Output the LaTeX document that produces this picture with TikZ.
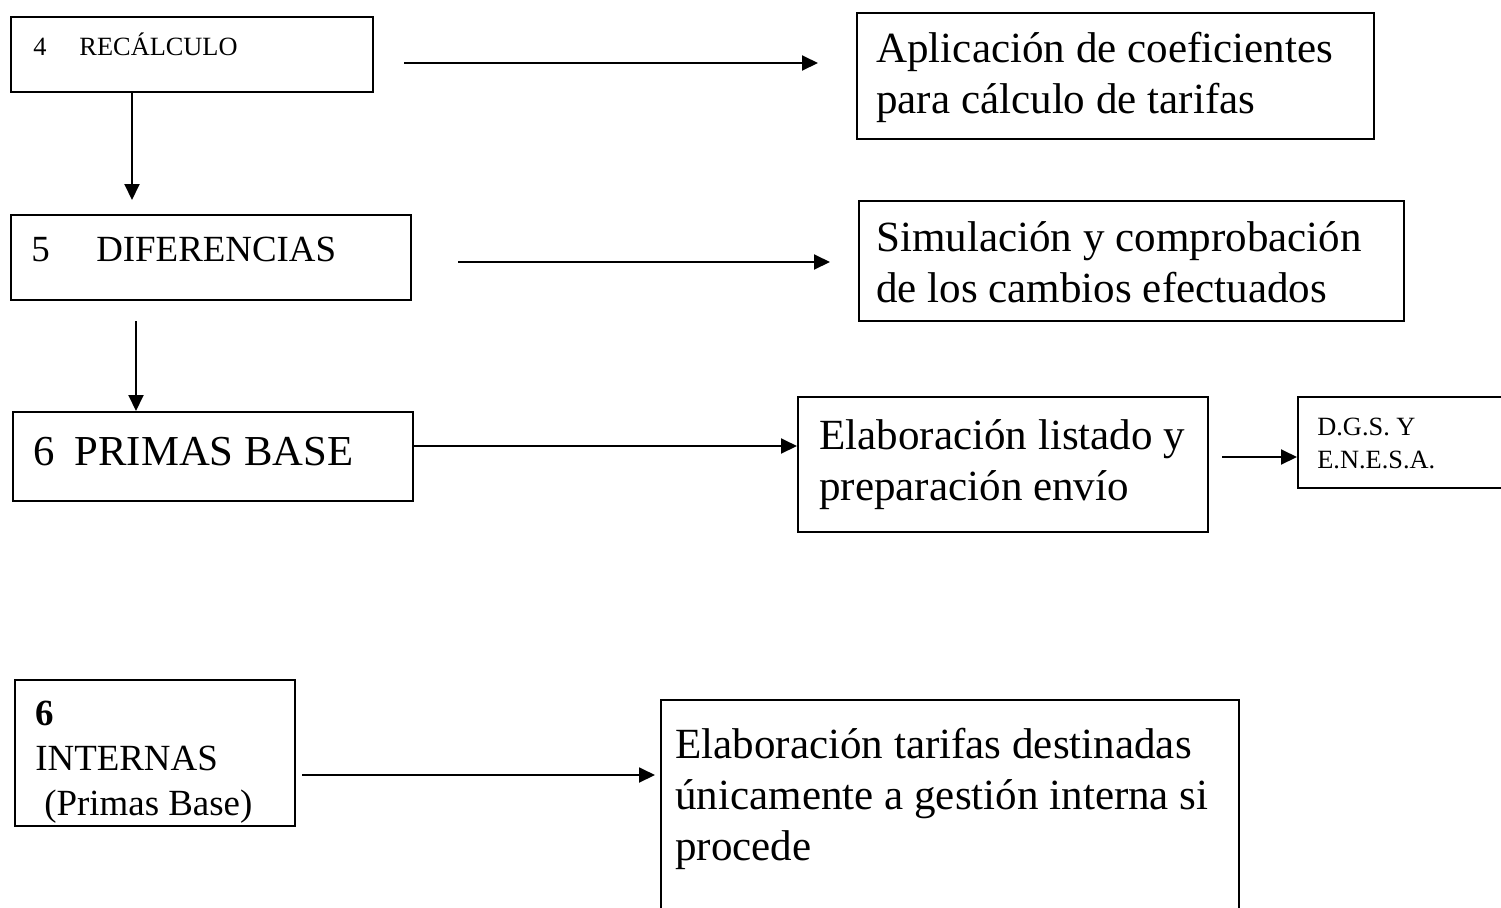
\documentclass[tikz,border=0pt]{standalone}
\usepackage{fontspec}
\setmainfont{Liberation Serif}
\usetikzlibrary{arrows.meta,positioning}

\begin{document}
\begin{tikzpicture}[x=0.02cm, y=-0.02cm,
      box/.style={draw,line width=1.1pt,anchor=north west,inner sep=0pt},
      txt/.style={anchor=base west,inner sep=0pt,align=left},
      arr/.style={line width=1.1pt,-{Triangle[length=0.32cm,width=0.3cm]}}]
    \tikzstyle{big} = [font=\fontsize{24.5pt}{29pt}\selectfont]
    \tikzstyle{small} = [font=\fontsize{15pt}{18.5pt}\selectfont]
    \clip (0,0) rectangle (1501,907);
    \node [box,minimum width=7.24cm,minimum height=1.5cm] (recalc) at (10,16) {};
    \node [box,minimum width=10.34cm,minimum height=2.52cm] (aplic) at (856,12) {};
    \node [box,minimum width=8cm,minimum height=1.7cm] (difer) at (10,214) {};
    \node [box,minimum width=10.9cm,minimum height=2.4cm] (simul) at (858,200) {};
    \node [box,minimum width=8cm,minimum height=1.78cm] (primas) at (12,411) {};
    \node [box,minimum width=8.2cm,minimum height=2.7cm] (elab) at (797,396) {};
    \node [box,minimum width=4.3cm,minimum height=1.82cm] (dgs) at (1297,396) {};
    \node [box,minimum width=5.6cm,minimum height=2.92cm] (intern) at (14,679) {};
    \node [box,minimum width=11.56cm,minimum height=4.4cm] (gestion) at (660,699) {};
    % base west of a multi-line node sits on its last line
    \node [txt,small] (recalcT) at (33,55) {4\hspace{0.66cm}RECÁLCULO};
    \node [txt,font=\fontsize{21pt}{24pt}\selectfont] (diferT) at (31,261) {5\hspace{0.93cm}DIFERENCIAS};
    \node [txt,font=\fontsize{24.3pt}{27pt}\selectfont] (primasT) at (33,465) {6\hspace{0.4cm}PRIMAS BASE};
    \node [txt,big] (aplicT) at (876,113) {Aplicación de coeficientes\\para cálculo de tarifas};
    \node [txt,big] (simulT) at (876,302) {Simulación y comprobación\\de los cambios efectuados};
    \node [txt,big] (elabT) at (819,500) {Elaboración listado y\\preparación envío};
    \node [txt,small] (dgsT) at (1317,468) {D.G.S. Y\\E.N.E.S.A.};
    \node [txt,font=\fontsize{21pt}{25.5pt}\selectfont] (internT) at (35,815)
      {\textbf{6}\\INTERNAS\\\hspace*{0.18cm}(Primas Base)};
    \node [txt,big] (gestionT) at (675,860)
      {Elaboración tarifas destinadas\\únicamente a gestión interna si\\procede};
    \coordinate (a1) at (404,63);
    \coordinate (a2) at (458,262);
    \coordinate (a3) at (1222,457);
    \coordinate (a4) at (302,775);
    \coordinate (d1) at (132,200);
    \coordinate (d2) at (136,321);
    \draw [arr] (a1) -- (818,63);
    \draw [arr] (a2) -- (830,262);
    \draw [arr] (primas.east |- 0,446) -- (elab.west |- 0,446);
    \draw [arr] (a3) -- (dgs.west |- a3);
    \draw [arr] (a4) -- (655,775);
    \draw [arr] (recalc.south -| d1) -- (d1);
    \draw [arr] (d2) -- (primas.north -| d2);
\end{tikzpicture}
\end{document}
